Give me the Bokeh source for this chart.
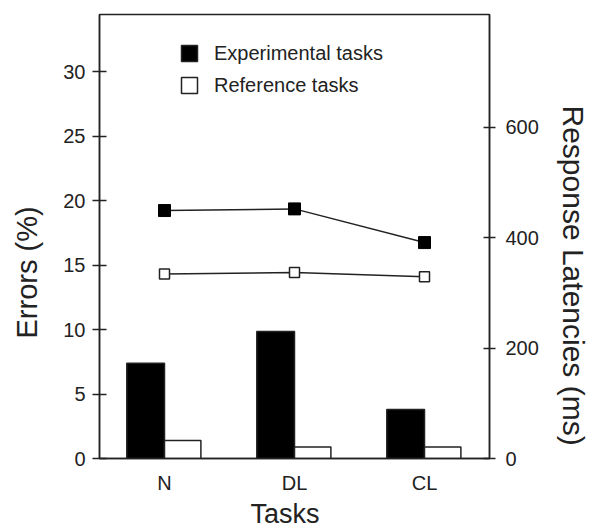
from bokeh.plotting import figure
from bokeh.models import (Range1d, LinearAxis, FactorRange, Legend, LegendItem,
                          Title, FixedTicker, ColumnDataSource)
from bokeh.transform import dodge
from bokeh.embed import file_html
from bokeh.resources import INLINE

# ---- data ----
tasks = ["N", "DL", "CL"]
err_exp = [7.4, 9.85, 3.8]      # Errors (%) experimental tasks
err_ref = [1.4, 0.9, 0.9]       # Errors (%) reference tasks
lat_exp = [449, 452, 391]       # Response latencies (ms) experimental
lat_ref = [334, 337, 329]       # Response latencies (ms) reference
err_ticks = [0, 5, 10, 15, 20, 25, 30]
lat_ticks = [0, 200, 400, 600]
legend_labels = ["Experimental tasks", "Reference tasks"]

FONT = "Liberation Sans"
INK = "#222222"

src = ColumnDataSource(dict(task=tasks, err_exp=err_exp, err_ref=err_ref,
                            lat_exp=lat_exp, lat_ref=lat_ref))

p = figure(x_range=FactorRange(*tasks), y_range=Range1d(0, 34.46),
           width=590, height=528, output_backend="svg", toolbar_location=None,
           min_border_left=99, min_border_right=101, min_border_top=14,
           min_border_bottom=69)
p.extra_y_ranges = {"lat": Range1d(0, 804)}
p.xgrid.visible = False
p.ygrid.visible = False
p.outline_line_color = INK
p.outline_line_width = 1.5
p.background_fill_color = "white"
p.border_fill_color = "white"

r_exp = p.vbar(x=dodge("task", -0.145, range=p.x_range), top="err_exp", width=0.29,
               source=src, fill_color="black", line_color=INK, line_width=1.5)
r_ref = p.vbar(x=dodge("task", 0.14, range=p.x_range), top="err_ref", width=0.28,
               source=src, fill_color="white", line_color=INK, line_width=1.5)

p.line(x="task", y="lat_exp", source=src, y_range_name="lat",
       line_color=INK, line_width=1.5)
p.scatter(x="task", y="lat_exp", source=src, y_range_name="lat", marker="square",
          size=12, fill_color="black", line_color="black")
p.line(x="task", y="lat_ref", source=src, y_range_name="lat",
       line_color=INK, line_width=1.5)
p.scatter(x="task", y="lat_ref", source=src, y_range_name="lat", marker="square",
          size=10, fill_color="white", line_color=INK, line_width=1.5)

def style_axis(ax):
    ax.axis_line_color = INK
    ax.axis_line_width = 1.5
    ax.major_tick_line_color = INK
    ax.major_tick_line_width = 1.5
    ax.minor_tick_line_color = None
    ax.major_label_text_font = FONT
    ax.major_label_text_font_size = "20px"
    ax.major_label_text_color = INK

# left axis
ly = p.yaxis[0]
style_axis(ly)
ly.ticker = FixedTicker(ticks=err_ticks)
ly.major_tick_in = 7
ly.major_tick_out = 7
ly.major_label_standoff = 7

# right axis
ry = LinearAxis(y_range_name="lat", ticker=FixedTicker(ticks=lat_ticks))
style_axis(ry)
ry.major_tick_in = 6
ry.major_tick_out = 6
ry.major_label_standoff = 10
p.add_layout(ry, "right")

# bottom axis
bx = p.xaxis[0]
style_axis(bx)
bx.major_tick_line_color = None
bx.major_tick_in = 0
bx.major_tick_out = 0
bx.major_label_standoff = 13

def side_title(text, size, offset, standoff, pad):
    return Title(text=text, align="left", offset=offset, standoff=standoff,
                 padding=dict(left=0, right=0, top=0, bottom=pad),
                 text_font=FONT, text_font_size=size, text_font_style="normal",
                 text_color=INK)

p.add_layout(side_title("Errors (%)", "29px", 120, 16, 10), "left")
p.add_layout(side_title("Response Latencies (ms)", "30px", 91, 0, 15), "right")
p.add_layout(side_title("Tasks", "27px", 151, 0, 0), "below")

legend = Legend(items=[LegendItem(label=legend_labels[0], renderers=[r_exp]),
                       LegendItem(label=legend_labels[1], renderers=[r_ref])],
                location=(80, 357), orientation="vertical",
                glyph_width=20, glyph_height=20, label_height=32, spacing=0,
                label_standoff=15, padding=0, margin=0,
                border_line_color=None, background_fill_alpha=0,
                label_text_font=FONT, label_text_font_size="20px",
                label_text_color=INK)
p.add_layout(legend, "center")

open("out.html", "w").write(file_html(p, INLINE))
